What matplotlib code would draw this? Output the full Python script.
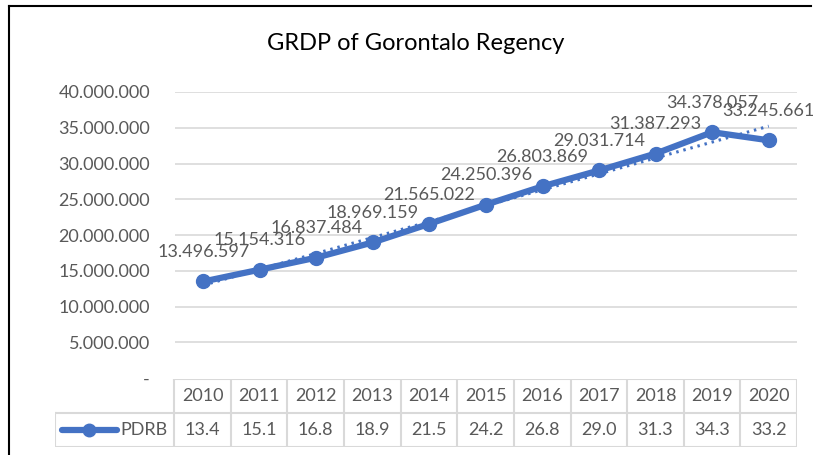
import numpy as np
import matplotlib
import matplotlib.pyplot as plt
from matplotlib.lines import Line2D

matplotlib.rcParams["font.family"] = ["Lato", "DejaVu Sans"]

# Data
years = [2010, 2011, 2012, 2013, 2014, 2015, 2016, 2017, 2018, 2019, 2020]
pdrb = [13496597, 15154316, 16837484, 18969159, 21565022, 24250396,
        26803869, 29031714, 31387293, 34378057, 33245661]
yticks = [0, 5000000, 10000000, 15000000, 20000000, 25000000,
          30000000, 35000000, 40000000]

C_LINE = "#4472C4"
C_TEXT = "#595959"
C_GRID = "#D9D9D9"
FS = 13

W, H = 814, 455
fig = plt.figure(figsize=(W / 100, H / 100), dpi=100)


def fx(px):
    return px / W


def fy(py):
    return 1 - py / H


def fmt(v):
    return "-" if v == 0 else f"{v:,.0f}".replace(",", ".")


# main plot area
ax = fig.add_axes([fx(175), fy(378), fx(797 - 175), (378 - 92) / H])
x = np.arange(len(years))
ax.set_xlim(-0.5, len(years) - 0.5)
ax.set_ylim(0, 40000000)
ax.set_yticks(yticks)
ax.set_yticklabels([fmt(v) for v in yticks], color=C_TEXT, fontsize=FS)
ax.tick_params(axis="y", length=0, pad=18)
ax.set_xticks([])
for s in ax.spines.values():
    s.set_visible(False)
for v in yticks[1:]:
    ax.axhline(v, color=C_GRID, lw=1.2, zorder=0)

# linear trend line
coef = np.polyfit(x, pdrb, 1)
ax.plot(x, np.polyval(coef, x), color=C_LINE, lw=2.2, ls=(0, (0.8, 1.6)),
        zorder=2)
ax.plot(x, pdrb, color=C_LINE, lw=4.5, marker="o", ms=10, zorder=3)
for xi, v in zip(x, pdrb):
    ax.annotate(fmt(v), (xi, v), xytext=(0, 21), textcoords="offset points",
                ha="center", va="center", fontsize=FS, color=C_TEXT,
                annotation_clip=False, zorder=4)

fig.text(fx(416), fy(44), "GRDP of Gorontalo Regency", ha="center",
         va="center", fontsize=17, color="black")

# data table below the chart
tab = fig.add_axes([fx(55), fy(447), fx(797 - 55), (447 - 379) / H])
left = -0.5 - (175 - 55) / 57.0
tab.set_xlim(left, len(years) - 0.5)
tab.set_ylim(0, 2)
tab.axis("off")
n = len(years)
tab.plot([-0.5, n - 0.5], [2, 2], color=C_GRID, lw=1.5)
tab.plot([left, n - 0.5], [1, 1], color=C_GRID, lw=1.5)
tab.plot([left, n - 0.5], [0, 0], color=C_GRID, lw=1.5)
tab.plot([left, left], [0, 1], color=C_GRID, lw=1.5)
for i in range(n + 1):
    tab.plot([i - 0.5, i - 0.5], [0, 2], color=C_GRID, lw=1.5)
for i, (yr, v) in enumerate(zip(years, pdrb)):
    tab.text(i, 1.5, str(yr), ha="center", va="center", fontsize=FS,
             color=C_TEXT)
    tab.text(i, 0.5, f"{np.floor(v / 1e5) / 10:.1f}", ha="center",
             va="center", fontsize=FS, color=C_TEXT)
lx0 = left + (62 - 55) / 57.0
lx1 = left + (117 - 55) / 57.0
tab.add_line(Line2D([lx0, lx1], [0.5, 0.5], color=C_LINE, lw=4.5,
                    solid_capstyle="round"))
tab.plot([(lx0 + lx1) / 2], [0.5], marker="o", ms=9, color=C_LINE)
tab.text(left + (121 - 55) / 57.0, 0.5, "PDRB", ha="left", va="center",
         fontsize=FS, color=C_TEXT)

# page frame
fig.add_artist(Line2D([fx(9), fx(9)], [fy(6), 0], color="black", lw=1.5))
fig.add_artist(Line2D([fx(9), fx(811)], [fy(6), fy(6)], color="black",
                      lw=1.5))

fig.savefig("out.png", dpi=100)
